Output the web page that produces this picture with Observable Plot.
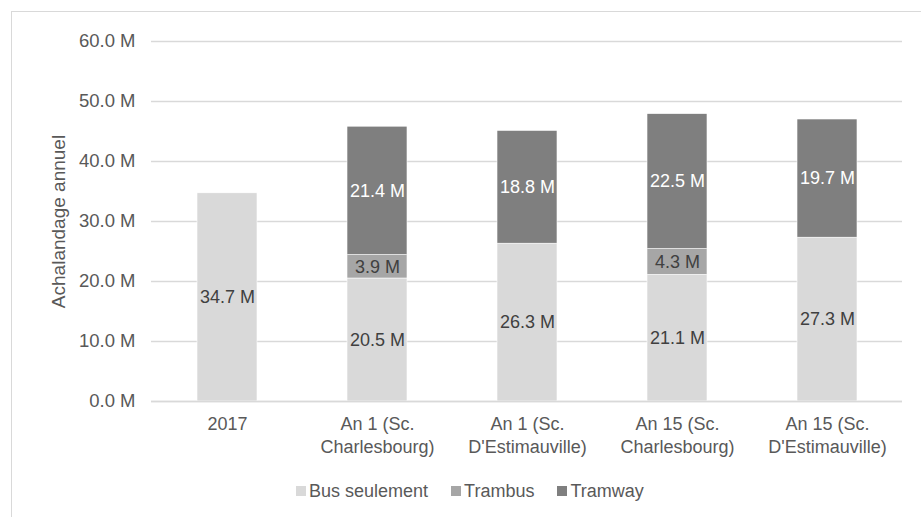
<!DOCTYPE html>
<html>
<head>
<meta charset="utf-8">
<script src="https://cdn.jsdelivr.net/npm/d3@7"></script>
<script src="https://cdn.jsdelivr.net/npm/@observablehq/plot@0.6"></script>
<style>
  html, body { margin: 0; padding: 0; background: #fff; overflow: hidden; width: 921px; height: 517px; }
  body { position: relative; font-family: "Liberation Sans", Arial, sans-serif; }
  #frame { position: absolute; left: 11px; top: 11px; width: 1000px; height: 1000px; border: 1.5px solid #d9d9d9; box-sizing: border-box; pointer-events: none; }
  #chart { position: absolute; left: 0; top: 0; }
  #legend { position: absolute; left: 296px; top: 481px; height: 20px; display: flex; align-items: center; font-size: 18px; color: #595959; white-space: nowrap; }
  #legend .item { display: flex; align-items: center; margin-right: 23px; }
  #legend .sw { width: 10px; height: 10px; margin-right: 3px; }
</style>
</head>
<body>
<div id="frame"></div>
<div id="chart"></div>
<div id="legend"></div>
<script>
const categories = ["2017", "An 1 (Sc.\nCharlesbourg)", "An 1 (Sc.\nD'Estimauville)", "An 15 (Sc.\nCharlesbourg)", "An 15 (Sc.\nD'Estimauville)"];
const series = ["Bus seulement", "Trambus", "Tramway"];
const colors = ["#d9d9d9", "#a6a6a6", "#7f7f7f"];
const labelColors = ["#404040", "#404040", "#ffffff"];
const busValues = [34.7, 20.5, 26.3, 21.1, 27.3];
const trambusValues = [0, 3.9, 0, 4.3, 0];
const tramwayValues = [0, 21.4, 18.8, 22.5, 19.7];
const yTicks = [0, 10, 20, 30, 40, 50, 60];
const yTitle = "Achalandage annuel";

const valuesBySeries = [busValues, trambusValues, tramwayValues];
const data = [];
series.forEach((s, si) => {
  categories.forEach((c, ci) => {
    const v = valuesBySeries[si][ci];
    if (v > 0) data.push({category: c, series: s, value: v});
  });
});

const font = "Liberation Sans, Arial, sans-serif";
const chart = Plot.plot({
  width: 921,
  height: 460,
  marginLeft: 151,
  marginRight: 19,
  marginTop: 41,
  marginBottom: 59,
  style: {fontFamily: font, fontSize: "18px", background: "transparent"},
  x: {domain: categories, paddingInner: 0.6, paddingOuter: 0.3, label: null},
  y: {domain: [0, 60], label: null},
  color: {domain: series, range: colors},
  marks: [
    Plot.gridY(yTicks, {stroke: "#d9d9d9", strokeOpacity: 1, strokeWidth: 1.3}),
    Plot.axisY(yTicks, {tickSize: 0, tickPadding: 16, tickFormat: d => d.toFixed(1) + " M", fill: "#595959", fontSize: 18.5, label: null}),
    Plot.axisX({tickSize: 0, tickPadding: 12, fill: "#595959", fontSize: 18, lineHeight: 1.28, label: null}),
    Plot.barY(data, Plot.stackY({x: "category", y: "value", z: "series", fill: "series", stroke: "#fff", strokeWidth: 0.6})),
    Plot.ruleY([0], {stroke: "#d9d9d9", strokeWidth: 1.3}),
    Plot.text(data, Plot.stackY({x: "category", y: "value", z: "series", text: d => d.value.toFixed(1) + " M",
      fill: d => labelColors[series.indexOf(d.series)], fontSize: 18})),
    Plot.text([yTitle], {frameAnchor: "left", textAnchor: "middle", text: d => d, rotate: -90, dx: -93, fill: "#595959", fontSize: 19})
  ]
});
document.getElementById("chart").appendChild(chart);

const legend = document.getElementById("legend");
series.forEach((s, i) => {
  const item = document.createElement("div");
  item.className = "item";
  const sw = document.createElement("div");
  sw.className = "sw";
  sw.style.background = colors[i];
  const t = document.createElement("span");
  t.textContent = s;
  item.appendChild(sw);
  item.appendChild(t);
  legend.appendChild(item);
});
</script>
</body>
</html>
